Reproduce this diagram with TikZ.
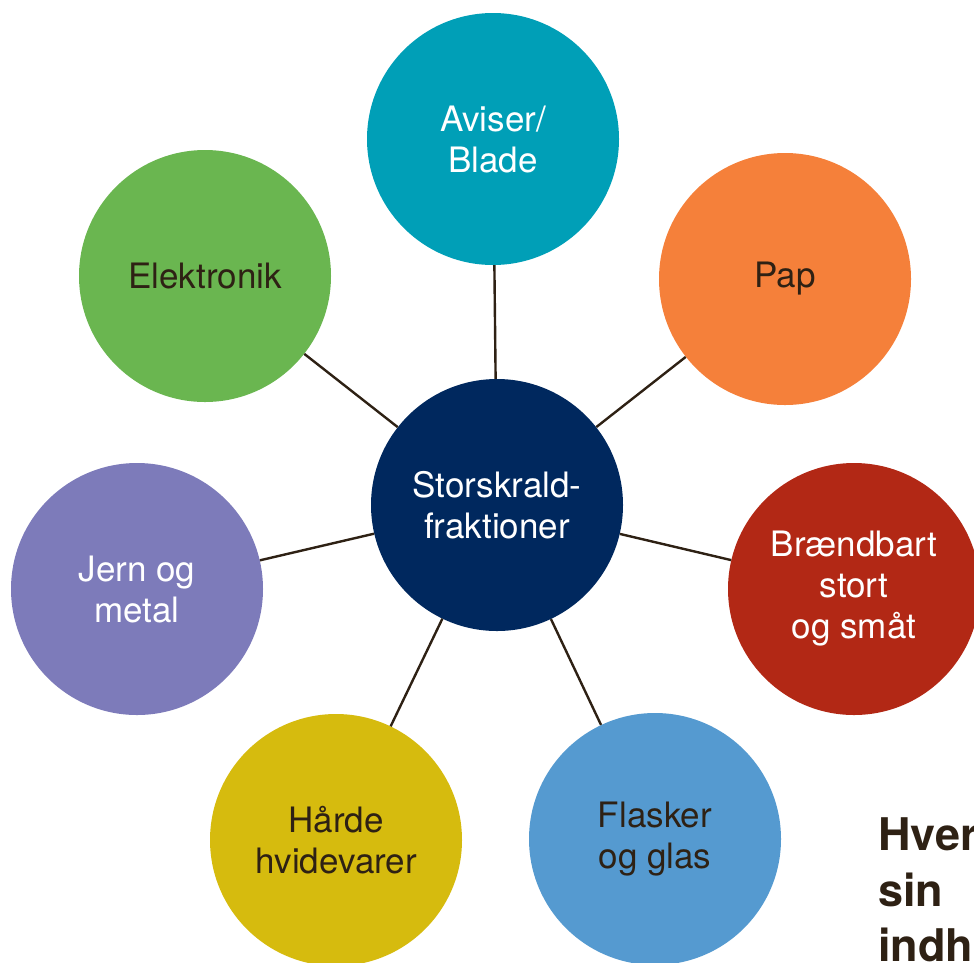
\documentclass[tikz,border=0pt]{standalone}
\usepackage{fontspec}
\setmainfont{TeX Gyre Heros}
\definecolor{cCenter}{HTML}{00285E}
\definecolor{cAviser}{HTML}{009FB7}
\definecolor{cPap}{HTML}{F5803A}
\definecolor{cBrand}{HTML}{B22815}
\definecolor{cFlask}{HTML}{559AD0}
\definecolor{cHaard}{HTML}{D6BB0E}
\definecolor{cJern}{HTML}{7D7BBA}
\definecolor{cElek}{HTML}{6AB650}
\definecolor{cDark}{HTML}{2E2114}
\tikzset{
  bubble/.style={circle, minimum size=252pt, inner sep=0pt, align=center,
    font=\fontsize{35}{41}\selectfont},
  light/.style={bubble, text=white},
  darkt/.style={bubble, text=cDark},
  spoke/.style={draw=cDark, line width=2.4pt},
  headline/.style={anchor=base west, inner sep=0pt, text=cDark,
    font=\fontsize{45}{52}\selectfont\bfseries}
}
\begin{document}
\begin{tikzpicture}[x=1pt,y=-1pt]
\useasboundingbox (0,0) rectangle (974,962);
\clip (0,0) rectangle (974,962);
\node[light, fill=cCenter] (c) at (497,505) {Storskrald-\\fraktioner};
\node[light, fill=cAviser] (av) at (493,139) {Aviser/\\Blade};
\node[darkt, fill=cPap] (pap) at (785,279) {Pap};
\node[light, fill=cBrand] (br) at (854,589) {Brændbart\\stort\\og småt};
\node[darkt, fill=cFlask] (fl) at (655,839) {Flasker\\og glas};
\node[darkt, fill=cHaard] (hd) at (336,840) {Hårde\\hvidevarer};
\node[light, fill=cJern] (je) at (137,589) {Jern og\\metal};
\node[darkt, fill=cElek] (el) at (205,276) {Elektronik};
\foreach \n in {av,pap,br,fl,hd,je,el}{
  \draw[spoke] (c) -- (\n);
}
\node[headline] (h1) at (878,850) {Hver};
\node[headline] (h2) at (878,906) {sin};
\node[headline] (h3) at (878,961) {indh};
\end{tikzpicture}
\end{document}
